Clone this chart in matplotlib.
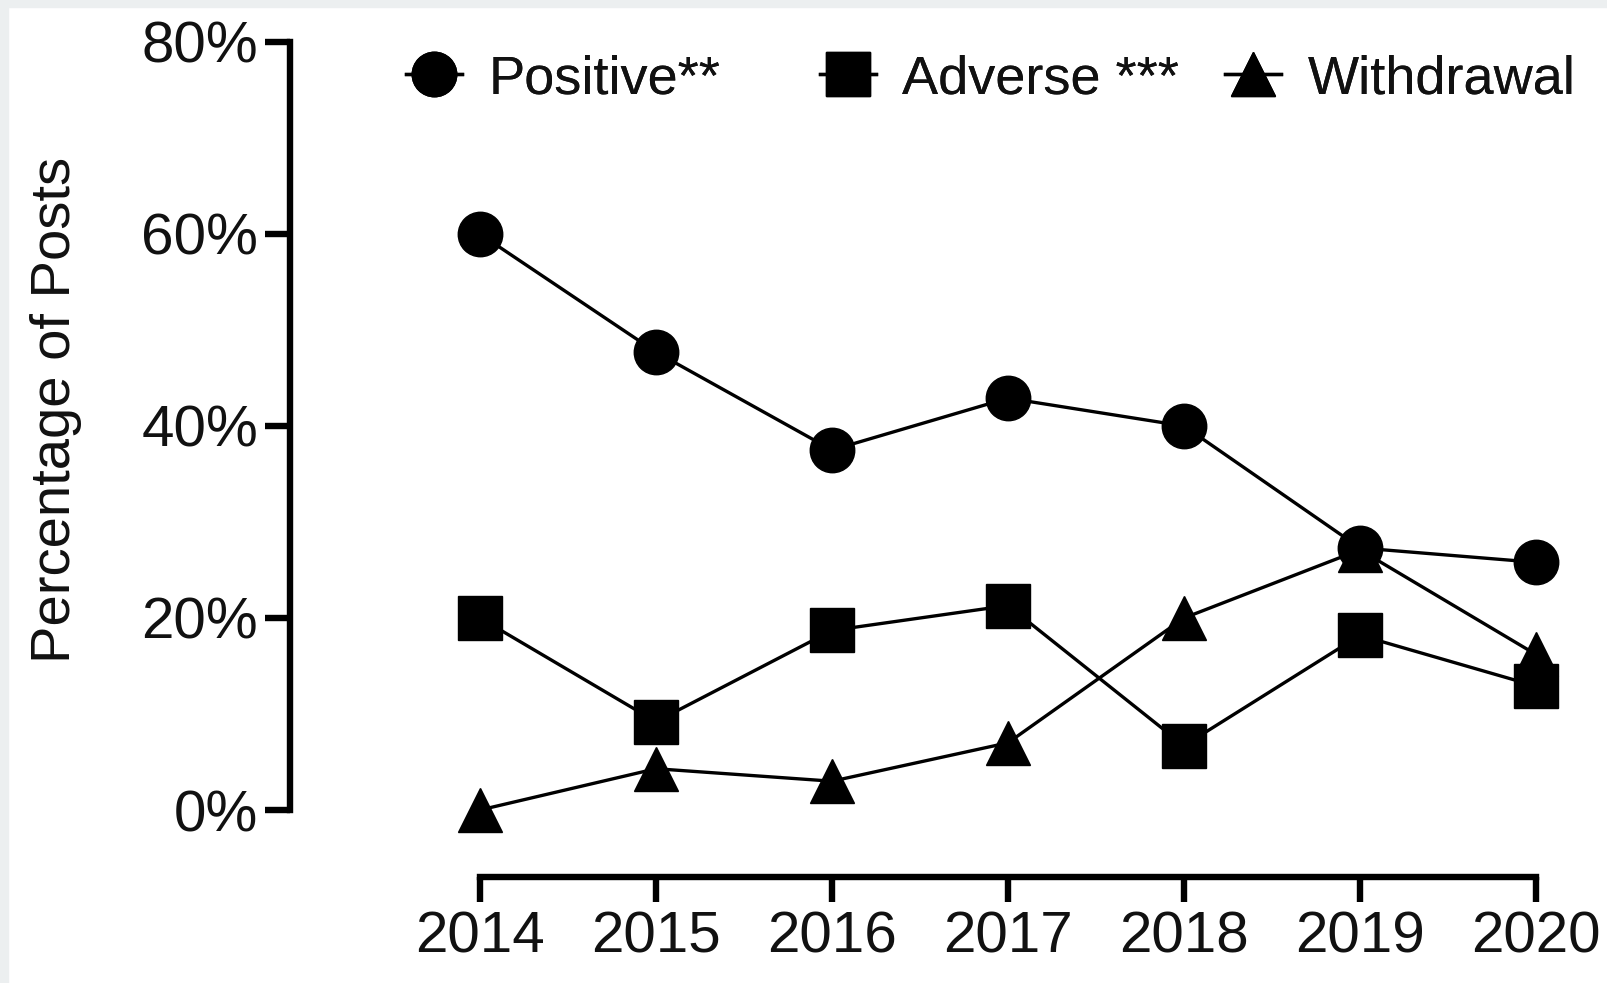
import matplotlib
matplotlib.use("Agg")
import matplotlib.pyplot as plt
from matplotlib.patches import Rectangle
from matplotlib.lines import Line2D

plt.rcParams["font.family"] = ["Liberation Sans", "DejaVu Sans"]

# Share of posts by sentiment, per year
years = [2014, 2015, 2016, 2017, 2018, 2019, 2020]
positive = [60.0, 47.7, 37.5, 42.9, 40.0, 27.3, 25.8]
adverse = [20.0, 9.2, 18.7, 21.3, 6.7, 18.2, 12.9]
withdrawal = [0.0, 4.3, 3.0, 7.0, 20.0, 27.1, 16.2]

series_labels = ["Positive**", "Adverse ***", "Withdrawal"]
y_ticks = [0, 20, 40, 60, 80]
y_ticklabels = ["0%", "20%", "40%", "60%", "80%"]

W, H, DPI = 1608, 983, 100
fig = plt.figure(figsize=(W / DPI, H / DPI), dpi=DPI, facecolor="white")

# thin grey frame strips along the top and left edges
strip = "#ECEFF0"
fig.patches.append(Rectangle((0, 0), 8 / W, 1, transform=fig.transFigure,
                             color=strip, zorder=0))
fig.patches.append(Rectangle((0, 1 - 7 / H), 1, 7 / H, transform=fig.transFigure,
                             color=strip, zorder=0))

# axes box in pixel terms: left spine at x=290, 2020 at x=1536,
# bottom spine at y=877 (from top), 80% at y=42
ax_left, ax_right = 290, 1536
ax_top, ax_bottom = 42, 877
ax = fig.add_axes([ax_left / W, 1 - ax_bottom / H,
                   (ax_right - ax_left) / W, (ax_bottom - ax_top) / H])
ax.set_facecolor("none")

x_first_px = 480
px_per_year = (ax_right - x_first_px) / 6
ax.set_xlim(2014 - (x_first_px - ax_left) / px_per_year, 2020)
zero_px = 810
px_per_pct = (zero_px - ax_top) / 80
ax.set_ylim(-(ax_bottom - zero_px) / px_per_pct, 80)

lw = 2.4
msize = 32
common = dict(color="black", linewidth=lw, markersize=msize,
              markeredgewidth=1.0, markerfacecolor="black",
              markeredgecolor="black", clip_on=False)
ax.plot(years, withdrawal, marker="^", zorder=3, **common)
ax.plot(years, adverse, marker="s", zorder=4, **common)
ax.plot(years, positive, marker="o", zorder=5, **common)

spine_w = 4.6
for side in ("top", "right"):
    ax.spines[side].set_visible(False)
ax.spines["left"].set_linewidth(spine_w)
ax.spines["bottom"].set_linewidth(spine_w)
ax.spines["left"].set_bounds(0, 80)
ax.spines["bottom"].set_bounds(2014, 2020)
ax.spines["left"].set_capstyle("projecting")
ax.spines["bottom"].set_capstyle("projecting")

ax.set_xticks(years)
ax.set_xticklabels([str(y) for y in years])
ax.set_yticks(y_ticks)
ax.set_yticklabels(y_ticklabels)
ax.tick_params(axis="both", length=18, width=spine_w, color="black",
               labelsize=42, labelcolor="#111111")
ax.tick_params(axis="x", pad=6)
ax.tick_params(axis="y", pad=5)

fig.text(56 / W, 1 - 410 / H, "Percentage of Posts", rotation=90,
         ha="center", va="center", fontsize=40.5, color="#111111")

# legend: one entry per series, laid out in a row above the plot
markers = ["o", "s", "^"]
handle_x = [406, 820, 1225]
legend_y = 1 - 79 / H
for mk, lab, hx in zip(markers, series_labels, handle_x):
    h = Line2D([], [], color="black", linewidth=lw, marker=mk,
               markersize=msize, markerfacecolor="black",
               markeredgecolor="black")
    leg = fig.legend([h], [lab], loc="center left",
                     bbox_to_anchor=(hx / W, legend_y),
                     bbox_transform=fig.transFigure, frameon=False,
                     fontsize=39, handlelength=1.04, handletextpad=0.48,
                     borderpad=0, borderaxespad=0, labelcolor="#111111")
    fig.add_artist(leg)

fig.savefig("out.png", dpi=DPI, facecolor="white")
